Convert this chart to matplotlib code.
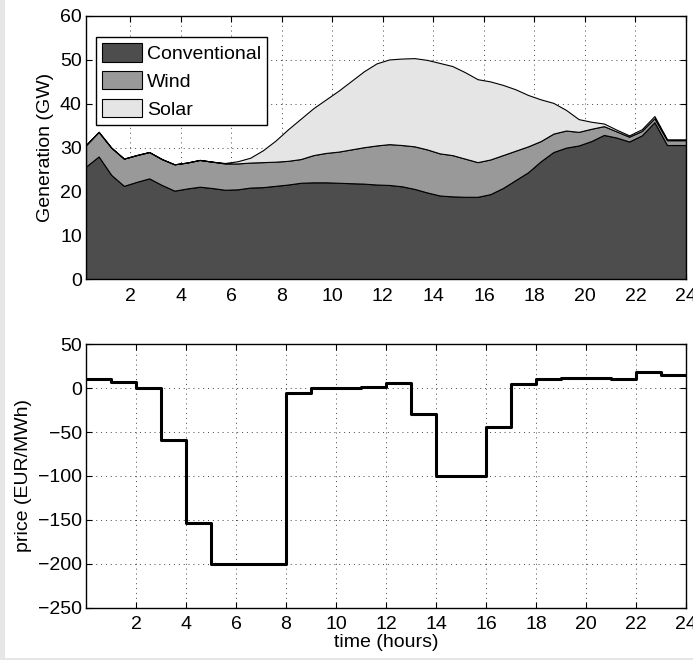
import numpy as np
import matplotlib.pyplot as plt
from matplotlib.patches import Rectangle

# half-hour samples, first at 0.25 h, last at 24 h
hours = np.append(np.arange(0.25, 24.0, 0.5), 24.0)

# generation per source (GW)
conventional = [25.7, 28.0, 23.8, 21.3, 22.2, 23.0, 21.5, 20.2, 20.7, 21.1,
                20.8, 20.4, 20.5, 20.9, 21.0, 21.3, 21.6, 22.0, 22.1, 22.1,
                22.0, 21.9, 21.8, 21.6, 21.5, 21.2, 20.6, 19.8, 19.1, 18.9,
                18.8, 18.8, 19.4, 20.8, 22.6, 24.4, 26.9, 29.0, 30.0, 30.5,
                31.5, 32.9, 32.3, 31.4, 32.8, 35.8, 30.6, 30.6, 30.6]
wind = [4.9, 5.6, 6.2, 6.2, 6.1, 6.0, 5.9, 6.0, 5.9, 6.1,
        6.0, 6.0, 5.9, 5.7, 5.7, 5.5, 5.4, 5.4, 6.2, 6.7,
        7.1, 7.7, 8.3, 8.9, 9.3, 9.4, 9.7, 9.8, 9.6, 9.4,
        8.7, 7.9, 7.9, 7.5, 6.7, 5.9, 4.6, 4.2, 3.9, 3.1,
        2.8, 2.0, 1.4, 1.1, 1.0, 0.9, 1.1, 1.1, 1.1]
solar = [0.0, 0.0, 0.0, 0.0, 0.0, 0.0, 0.0, 0.0, 0.0, 0.0,
         0.0, 0.1, 0.5, 1.1, 2.7, 4.8, 7.2, 9.2, 10.7, 12.2,
         13.9, 15.6, 17.3, 18.7, 19.3, 19.7, 20.1, 20.4, 20.6, 20.3,
         19.7, 18.9, 17.8, 16.0, 14.0, 11.7, 9.5, 7.0, 4.7, 2.9,
         1.6, 0.6, 0.4, 0.3, 0.4, 0.5, 0.2, 0.2, 0.2]
source_names = ['Conventional', 'Wind', 'Solar']
source_colors = ['#4d4d4d', '#999999', '#e5e5e5']

# hourly price (EUR/MWh), hour 0-1 ... 23-24
price_hours = np.arange(0, 25)
price = [10, 7, 0, -59, -154, -200, -200, -200, -5, 0,
         0, 1, 6, -29, -100, -100, -44, 5, 11, 12,
         12, 11, 18, 15]

plt.rcParams['font.family'] = ['Liberation Sans', 'DejaVu Sans']
plt.rcParams['font.size'] = 14
plt.rcParams['axes.linewidth'] = 1.0

fig = plt.figure(figsize=(6.93, 6.6), dpi=100, facecolor='#e6e6e6')
# white page, grey strip left and bottom
fig.add_artist(Rectangle((5 / 693, 2 / 660), 1, 1, transform=fig.transFigure,
                         facecolor='white', edgecolor='none', zorder=-10))

grid_kw = dict(color='#444444', linestyle=(0, (1, 4)), linewidth=0.7)


def style_axes(ax):
    ax.set_facecolor('white')
    ax.grid(True, **grid_kw)
    ax.set_axisbelow(True)
    ax.tick_params(direction='in', top=True, right=True, length=4, width=0.8,
                   labelsize=14, pad=3)
    ax.tick_params(axis='x', pad=6)


ax1 = fig.add_axes([86 / 693, 1 - 279.3 / 660, 600 / 693, 263.3 / 660])
polys = ax1.stackplot(hours, conventional, wind, solar, colors=source_colors,
                      labels=source_names, edgecolor='black', linewidth=0.8)
ax1.set_xlim(0.25, 24)
ax1.set_ylim(0, 60)
ax1.set_xticks(range(2, 25, 2))
ax1.set_yticks(range(0, 61, 10))
ax1.set_ylabel('Generation (GW)', labelpad=4)
style_axes(ax1)
leg = ax1.legend(loc='upper left', bbox_to_anchor=(0.016, 0.921), borderaxespad=0,
                 fancybox=False, framealpha=1, edgecolor='black',
                 handlelength=2.05, handleheight=1.08, handletextpad=0.26,
                 labelspacing=0.41, borderpad=0.33, fontsize=14)
leg.get_frame().set_linewidth(1.0)

ax2 = fig.add_axes([86 / 693, 1 - 607.6 / 660, 600 / 693, 263.3 / 660])
ax2.step(price_hours, price + [price[-1]], where='post', color='black', linewidth=2.2)
ax2.set_xlim(0, 24)
ax2.set_ylim(-250, 50)
ax2.set_xticks(range(2, 25, 2))
ax2.set_yticks(range(-250, 51, 50))
ax2.set_xlabel('time (hours)', labelpad=1)
ax2.set_ylabel('price (EUR/MWh)', labelpad=4)
style_axes(ax2)

fig.savefig('out.png', dpi=100, facecolor=fig.get_facecolor())
